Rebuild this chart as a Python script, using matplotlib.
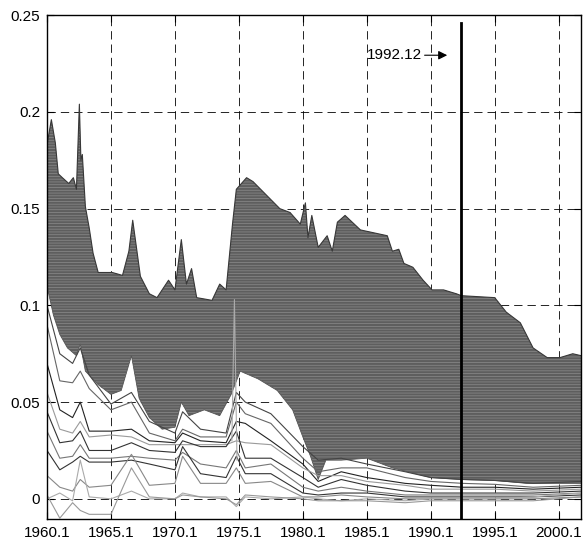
import matplotlib
matplotlib.use('Agg')
import matplotlib.pyplot as plt
import numpy as np

plt.rcParams['font.family'] = ['Liberation Sans', 'DejaVu Sans']
plt.rcParams['hatch.linewidth'] = 0.5

# upper edge of the dense bundle of curves (decimal year, value)
top_t = [1960.0, 1960.34, 1960.65, 1960.88, 1961.2, 1961.7, 1962.06, 1962.3, 1962.53, 1962.65,
         1962.76, 1963.0, 1963.3, 1963.6, 1964.0, 1965.1, 1965.9, 1966.4, 1966.7, 1967.3,
         1968.0, 1968.6, 1969.5, 1970.0, 1970.5, 1970.9, 1971.3, 1971.7, 1972.9, 1973.5,
         1974.0, 1974.5, 1974.8, 1975.6, 1976.1, 1977.0, 1978.2, 1979.0, 1979.8, 1980.2,
         1980.4, 1980.7, 1981.2, 1981.9, 1982.3, 1982.7, 1983.3, 1984.5, 1986.6, 1987.0,
         1987.5, 1987.9, 1988.6, 1989.4, 1990.1, 1991.0, 1992.0, 1992.4, 1995.0, 1995.9,
         1997.0, 1998.0, 1999.1, 2000.1, 2001.1, 2001.75]
top_v = [0.183, 0.196, 0.184, 0.168, 0.166, 0.163, 0.166, 0.160, 0.204, 0.175,
         0.178, 0.151, 0.140, 0.127, 0.117, 0.117, 0.1155, 0.128, 0.144, 0.115,
         0.106, 0.104, 0.113, 0.108, 0.134, 0.111, 0.119, 0.104, 0.1026, 0.111,
         0.108, 0.142, 0.160, 0.166, 0.164, 0.158, 0.150, 0.148, 0.142, 0.153,
         0.135, 0.1465, 0.130, 0.136, 0.128, 0.143, 0.1465, 0.139, 0.136, 0.128,
         0.129, 0.1217, 0.1197, 0.113, 0.108, 0.108, 0.106, 0.105, 0.104, 0.0965,
         0.091, 0.078, 0.073, 0.073, 0.075, 0.074]

# lower edge of the dense bundle
bot_t = [1960.0, 1960.5, 1961.0, 1961.6, 1962.3, 1962.6, 1963.0, 1964.0, 1965.0, 1965.8,
         1966.6, 1967.2, 1968.0, 1969.0, 1970.0, 1970.5, 1971.1, 1972.3, 1973.5, 1974.4,
         1975.1, 1976.5, 1978.0, 1979.2, 1980.0, 1980.6, 1981.2, 1981.8, 1983.0, 1985.0,
         1987.0, 1990.0, 1992.4, 1995.0, 1997.5, 2001.75]
bot_v = [0.110, 0.095, 0.085, 0.078, 0.074, 0.080, 0.066, 0.059, 0.054, 0.056,
         0.074, 0.052, 0.042, 0.036, 0.037, 0.050, 0.043, 0.046, 0.043, 0.054,
         0.066, 0.062, 0.056, 0.046, 0.032, 0.022, 0.010, 0.020, 0.020, 0.021,
         0.016, 0.011, 0.010, 0.0095, 0.008, 0.008]

# separate curves below the bundle
low_t = [1960.0, 1961.0, 1962.0, 1962.6, 1963.3, 1965.0, 1966.6, 1968.0, 1970.0, 1970.6,
         1972.0, 1974.0, 1974.8, 1975.5, 1977.5, 1980.0, 1981.2, 1983.0, 1985.0, 1988.0,
         1990.0, 1992.5, 1995.0, 1998.0, 2001.75]
low_1 = [0.100, 0.075, 0.070, 0.078, 0.064, 0.049, 0.055, 0.040, 0.034, 0.045, 0.036, 0.034, 0.055,
         0.050, 0.044, 0.027, 0.020, 0.021, 0.018, 0.014, 0.011, 0.010, 0.0095, 0.008, 0.009]
low_2 = [0.090, 0.061, 0.060, 0.066, 0.057, 0.046, 0.050, 0.034, 0.030, 0.036, 0.032, 0.032, 0.050,
         0.044, 0.039, 0.021, 0.014, 0.016, 0.016, 0.011, 0.009, 0.008, 0.0075, 0.006, 0.007]
low_3 = [0.070, 0.046, 0.042, 0.050, 0.035, 0.035, 0.036, 0.030, 0.029, 0.034, 0.030, 0.029, 0.040,
         0.039, 0.030, 0.018, 0.009, 0.014, 0.011, 0.008, 0.007, 0.006, 0.006, 0.005, 0.006]
low_4 = [0.055, 0.036, 0.034, 0.040, 0.032, 0.033, 0.032, 0.028, 0.028, 0.028, 0.028, 0.028, 0.030,
         0.029, 0.028, 0.016, 0.012, 0.012, 0.009, 0.007, 0.005, 0.005, 0.005, 0.004, 0.005]
low_5 = [0.045, 0.029, 0.030, 0.035, 0.025, 0.025, 0.029, 0.025, 0.024, 0.030, 0.027, 0.027, 0.035,
         0.021, 0.021, 0.011, 0.006, 0.010, 0.007, 0.004, 0.003, 0.003, 0.003, 0.003, 0.004]
low_6 = [0.035, 0.021, 0.022, 0.028, 0.021, 0.021, 0.022, 0.021, 0.020, 0.024, 0.018, 0.016, 0.025,
         0.016, 0.018, 0.006, 0.004, 0.006, 0.004, 0.002, 0.002, 0.002, 0.002, 0.002, 0.003]
low_7 = [0.025, 0.015, 0.019, 0.022, 0.019, 0.019, 0.020, 0.018, 0.015, 0.027, 0.013, 0.011, 0.022,
         0.013, 0.013, 0.003, 0.002, 0.003, 0.003, 0.001, 0.001, 0.001, 0.001, 0.001, 0.002]
low_8 = [0.012, 0.006, 0.004, 0.010, 0.006, 0.007, 0.023, 0.007, 0.008, 0.022, 0.008, 0.008, 0.016,
         0.008, 0.009, 0.001, 0.001, 0.002, 0.001, 0.000, 0.000, 0.000, 0.000, 0.000, 0.001]
low_9 = [0.000, 0.003, -0.001, 0.020, 0.001, 0.000, 0.004, 0.000, 0.000, 0.003, 0.001, 0.001, -0.004,
         0.001, 0.000, 0.001, 0.000, -0.001, 0.000, -0.001, 0.000, 0.000, 0.000, 0.001, 0.003]
low_10 = [0.002, -0.010, -0.002, -0.006, -0.008, -0.008, 0.016, 0.001, 0.000, 0.002, 0.001, 0.000, -0.003,
          0.002, 0.001, 0.000, -0.001, -0.001, -0.001, -0.002, -0.001, -0.001, -0.001, -0.001, 0.001]
low_colors = ['#444444', '#666666', '#222222', '#9a9a9a', '#333333',
              '#777777', '#333333', '#888888', '#aaaaaa', '#999999']

spike_t = [1974.45, 1974.65, 1974.85]
spike_v = [0.030, 0.103, 0.020]

break_t = 1992.37
break_label = '1992.12'

year_ticks = [1960, 1965, 1970, 1975, 1980, 1985, 1990, 1995, 2000]
year_labels = ['1960.1', '1965.1', '1970.1', '1975.1', '1980.1', '1985.1', '1990.1', '1995.1', '2000.1']
val_ticks = [0, 0.05, 0.1, 0.15, 0.2, 0.25]
val_labels = ['0', '0.05', '0.1', '0.15', '0.2', '0.25']

fig = plt.figure(figsize=(5.84, 5.52), dpi=100)
ax = fig.add_axes([0.0805, 0.0595, 0.9145, 0.913])

band_x = np.concatenate([top_t, bot_t[::-1]])
band_y = np.concatenate([top_v, bot_v[::-1]])
ax.fill(band_x, band_y, facecolor='#5e5e5e', edgecolor='#8c8c8c', hatch='------', linewidth=0)
ax.plot(top_t, top_v, color='#383838', lw=0.8)
ax.plot(bot_t, bot_v, color='#555555', lw=0.6)

lows = [low_1, low_2, low_3, low_4, low_5, low_6, low_7, low_8, low_9, low_10]
for vals, c in zip(lows, low_colors):
    ax.plot(low_t, vals, color=c, lw=0.8)
ax.plot(spike_t, spike_v, color='#aaaaaa', lw=0.8)

ax.axvline(break_t, ymin=0, ymax=(0.2457 + 0.0105) / 0.2605, color='k', lw=2)
ax.text(1984.98, 0.2293, break_label, ha='left', va='center', fontsize=11)
ax.annotate('', xy=(1991.5, 0.2293), xytext=(1989.3, 0.2293),
            arrowprops=dict(arrowstyle='-|>', color='k', lw=0.8, mutation_scale=13))

ax.set_xlim(1960, 2001.75)
ax.set_ylim(-0.0105, 0.25)
ax.set_xticks(year_ticks)
ax.set_xticklabels(year_labels)
ax.set_yticks(val_ticks)
ax.set_yticklabels(val_labels)
ax.tick_params(direction='in', top=True, right=True, length=5, width=0.8, labelsize=11, pad=5)
ax.set_axisbelow(True)
ax.grid(True, color='k', linestyle=(0, (10, 6)), linewidth=0.6)
for s in ax.spines.values():
    s.set_linewidth(1.0)

fig.savefig('out.png', dpi=100)
